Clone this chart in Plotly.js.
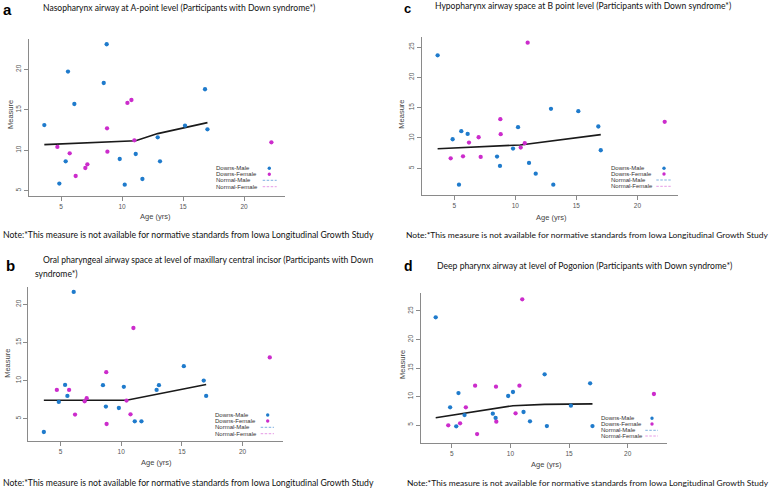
<!DOCTYPE html>
<html>
<head>
<meta charset="utf-8">
<script src="https://cdn.plot.ly/plotly-3.0.1.min.js"></script>
<style>html,body{margin:0;padding:0;background:#fff;}#chart{width:778px;height:489px;}</style>
</head>
<body>
<div id="chart"></div>
<script>
// ---- Data ----
const ageMale   = [3.63, 4.86, 5.38, 5.57, 6.09, 8.50, 8.74, 9.81, 10.22, 11.12, 11.67, 12.92, 13.11, 15.16, 16.80, 17.00];
const ageFemale = [4.70, 5.71, 6.20, 6.99, 7.16, 8.77, 8.80, 10.44, 10.77, 11.01, 22.24];

// a: Nasopharynx airway at A-point level
const naso_male   = [13.1, 5.87, 8.63, 19.71, 15.71, 18.3, 23.09, 8.91, 5.74, 9.53, 6.44, 11.59, 8.63, 13.03, 17.53, 12.58];
const naso_female = [10.4, 9.61, 6.81, 7.8, 8.26, 12.7, 9.82, 15.84, 16.2, 11.22, 10.97];
const naso_trend_x = [3.63, 10.22, 11.12, 12.92, 15.16, 17.0];
const naso_trend_y = [10.69, 11.05, 11.17, 12.05, 12.75, 13.41];

// b: Oral pharyngeal airway space at level of maxillary central incisor
const oral_male   = [3.25, 7.19, 9.43, 7.98, 21.62, 9.39, 6.58, 6.40, 9.17, 4.65, 4.65, 8.77, 9.39, 11.89, 10.0, 7.98];
const oral_female = [8.77, 8.77, 5.53, 7.28, 7.68, 11.10, 4.30, 7.37, 5.57, 16.89, 13.03];
const oral_trend_x = [3.63, 10.44, 17.0];
const oral_trend_y = [7.41, 7.41, 9.47];

// c: Hypopharynx airway space at B point level
const hypo_male   = [23.62, 9.79, 2.30, 11.12, 10.67, 6.93, 5.39, 8.25, 11.78, 5.88, 4.12, 14.81, 2.30, 14.42, 11.89, 7.98];
const hypo_female = [6.65, 6.98, 9.24, 10.12, 6.87, 13.10, 10.62, 8.42, 9.13, 25.72, 12.66];
const hypo_trend_x = [3.63, 10.4, 17.0];
const hypo_trend_y = [8.23, 8.85, 10.55];

// d: Deep pharynx airway at level of Pogonion
const deep_male   = [23.89, 8.10, 4.77, 10.61, 6.75, 6.99, 6.23, 10.09, 10.79, 7.28, 5.64, 13.89, 4.82, 8.39, 12.31, 4.82];
const deep_female = [4.94, 5.29, 8.10, 11.90, 3.42, 11.73, 5.58, 7.05, 11.90, 27.05, 10.44];
const deep_trend_x = [3.63, 8.5, 10.22, 12.92, 17.0];
const deep_trend_y = [6.29, 7.75, 8.39, 8.62, 8.70];

const xTicks = [5, 10, 15, 20];
const xTickText = ['5', '10', '15', '20'];
const legendLabels = ['Downs-Male', 'Downs-Female', 'Normal-Male', 'Normal-Female'];
const titles = {
  a: 'Nasopharynx airway at A-point level (Participants with Down syndrome*)',
  b1: 'Oral pharyngeal airway space at level of maxillary central incisor (Participants with Down',
  b2: 'syndrome*)',
  c: 'Hypopharynx airway space at B point level (Participants with Down syndrome*)',
  d: 'Deep pharynx airway at level of Pogonion (Participants with Down syndrome*)'
};
const noteText = 'Note:*This measure is not available for normative standards from Iowa Longitudinal Growth Study';

// ---- Styling ----
const W = 778, H = 489;
const BLUE = '#1f7bcc', MAG = '#cc2ccc';
const px = v => v / W;
const py = v => 1 - v / H;
const SANS = 'Liberation Sans, Arial, sans-serif';
const CAL = 'Lato, Carlito, Calibri, sans-serif';

const panels = [
  {key:'a', male:naso_male, female:naso_female, tx:naso_trend_x, ty:naso_trend_y,
   dom:{x0:28.7, x1:284.7, y0:39, y1:196}, yr:[4.34, 23.74], yt:[5,10,15,20]},
  {key:'b', male:oral_male, female:oral_female, tx:oral_trend_x, ty:oral_trend_y,
   dom:{x0:28.3, x1:283, y0:287.3, y1:441}, yr:[2.07, 22.23], yt:[5,10,15,20]},
  {key:'c', male:hypo_male, female:hypo_female, tx:hypo_trend_x, ty:hypo_trend_y,
   dom:{x0:422, x1:678, y0:37.3, y1:195}, yr:[0.6, 26.6], yt:[5,10,15,20,25]},
  {key:'d', male:deep_male, female:deep_female, tx:deep_trend_x, ty:deep_trend_y,
   dom:{x0:420.7, x1:666.7, y0:293.3, y1:442.7}, yr:[1.9, 28.1], yt:[5,10,15,20,25]}
];

const data = [];
const layout = {
  width: W, height: H,
  margin: {l:0, r:0, t:0, b:0},
  paper_bgcolor: '#ffffff', plot_bgcolor: 'rgba(0,0,0,0)',
  showlegend: false,
  annotations: [], shapes: []
};

panels.forEach((p, i) => {
  const n = i === 0 ? '' : String(i + 1);
  const xa = 'x' + n, ya = 'y' + n;
  const axBase = {
    showline: true, linecolor: '#8a8a8a', linewidth: 1, mirror: false,
    ticks: 'outside', ticklen: 4, tickwidth: 1, tickcolor: '#8a8a8a',
    tickfont: {family: SANS, size: 6.5, color: '#555'},
    showgrid: false, zeroline: false, fixedrange: true
  };
  layout['xaxis' + n] = Object.assign({}, axBase, {
    domain: [px(p.dom.x0), px(p.dom.x1)], range: [2.35, 23.33], anchor: ya,
    tickmode: 'array', tickvals: xTicks, ticktext: xTickText
  });
  layout['yaxis' + n] = Object.assign({}, axBase, {
    domain: [py(p.dom.y1), py(p.dom.y0)], range: p.yr, anchor: xa,
    tickmode: 'array', tickvals: p.yt, ticktext: p.yt.map(String), tickangle: -90
  });
  data.push({x: p.tx, y: p.ty, xaxis: xa, yaxis: ya, type: 'scatter', mode: 'lines',
             line: {color: '#1a1a1a', width: 1.6}, hoverinfo: 'skip'});
  data.push({x: ageMale, y: p.male, xaxis: xa, yaxis: ya, type: 'scatter', mode: 'markers',
             marker: {color: BLUE, size: 4.3}, name: legendLabels[0]});
  data.push({x: ageFemale, y: p.female, xaxis: xa, yaxis: ya, type: 'scatter', mode: 'markers',
             marker: {color: MAG, size: 4.3}, name: legendLabels[1]});
});

// ---- Text annotations ----
function ann(text, x, y, opts) {
  layout.annotations.push(Object.assign({
    text: text, x: px(x), y: py(y), xref: 'paper', yref: 'paper',
    showarrow: false, xanchor: 'left', yanchor: 'middle',
    font: {family: CAL, size: 8.6, color: '#111'}
  }, opts || {}));
}
// panel letters
const letterFont = s => ({family: SANS, size: s, color: '#000', weight: 'bold'});
ann('a', 2, 0, {yanchor: 'top', borderpad: 0, font: letterFont(15)});
ann('b', 5, 256, {yanchor: 'top', borderpad: 0, font: letterFont(15)});
ann('c', 403, 0, {yanchor: 'top', borderpad: 0, font: letterFont(13)});
ann('d', 403, 257, {yanchor: 'top', borderpad: 0, font: letterFont(14)});
// titles
ann(titles.a, 40.5, 7.5, {font: {family: CAL, size: 8.55, color: '#111'}});
ann(titles.b1, 40.5, 260, {font: {family: CAL, size: 8.55, color: '#111'}});
ann(titles.b2, 33, 273.5, {font: {family: CAL, size: 8.55, color: '#111'}});
ann(titles.c, 432.5, 5.5, {font: {family: CAL, size: 8.55, color: '#111'}});
ann(titles.d, 434.5, 265, {font: {family: CAL, size: 8.65, color: '#111'}});
// notes
ann(noteText, 0.5, 234.5, {font: {family: CAL, size: 8.68, color: '#111'}});
ann(noteText, 404, 235, {font: {family: CAL, size: 8.48, color: '#111'}});
ann(noteText, 0.5, 482.5, {font: {family: CAL, size: 8.68, color: '#111'}});
ann(noteText, 404.5, 482.5, {font: {family: CAL, size: 8.46, color: '#111'}});
// axis titles
const axT = {family: SANS, size: 7.5, color: '#444'};
[[155, 217], [156.7, 462.7], [551.3, 217.3], [546.3, 464.3]].forEach(c =>
  ann('Age (yrs)', c[0], c[1], {xanchor: 'center', font: axT}));
[[10, 115], [7.5, 363.3], [400.7, 114], [402, 365]].forEach(c =>
  ann('Measure', c[0], c[1], {xanchor: 'center', textangle: -90, font: axT}));

// ---- Legends (text + key symbols) ----
const legends = [
  {tx: 214.3, ys: [168.3, 174.3, 180.3, 186.7], sx: 269.3, d0: 262.7, d1: 276.7},
  {tx: 213.3, ys: [415, 421, 427.3, 433.7], sx: 267.7, d0: 260.7, d1: 274},
  {tx: 608.7, ys: [168.3, 174, 180, 186.3], sx: 664, d0: 656.3, d1: 670.7},
  {tx: 599.3, ys: [418.3, 424, 430.3, 436], sx: 652, d0: 645.3, d1: 658}
];
const legFont = {family: SANS, size: 6, color: '#333'};
legends.forEach(L => {
  legendLabels.forEach((lab, k) => ann(lab, L.tx, L.ys[k], {font: legFont}));
  [BLUE, MAG].forEach((col, k) => layout.shapes.push({
    type: 'circle', xref: 'paper', yref: 'paper', fillcolor: col, line: {width: 0},
    x0: px(L.sx - 1.7), x1: px(L.sx + 1.7), y0: py(L.ys[k] + 1.7), y1: py(L.ys[k] - 1.7)
  }));
  ['#7fb0e0', '#e59ae5'].forEach((col, k) => layout.shapes.push({
    type: 'line', xref: 'paper', yref: 'paper', line: {color: col, width: 1, dash: '2.5px,1.5px'},
    x0: px(L.d0), x1: px(L.d1), y0: py(L.ys[k + 2]), y1: py(L.ys[k + 2])
  }));
});

Plotly.newPlot('chart', data, layout, {staticPlot: true, displayModeBar: false});
</script>
</body>
</html>
